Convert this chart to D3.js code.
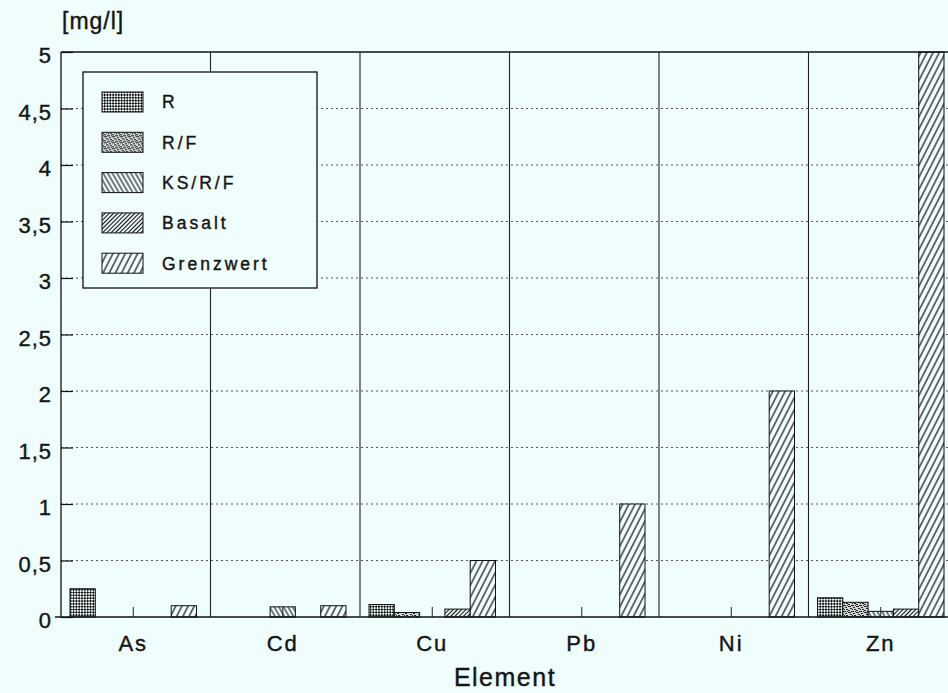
<!DOCTYPE html>
<html>
<head>
<meta charset="utf-8">
<script src="https://cdn.jsdelivr.net/npm/d3@7"></script>
<style>
  html, body { margin: 0; padding: 0; background: #f0fdfd; }
  svg { display: block; }
  text { font-family: "Liberation Sans", Arial, Helvetica, sans-serif; fill: #151515; stroke: #151515; stroke-width: 0.4px; }
</style>
</head>
<body>
<svg id="chart" width="948" height="693"></svg>
<script>
// ---- data ----
const categories = ["As", "Cd", "Cu", "Pb", "Ni", "Zn"];
const series = ["R", "R/F", "KS/R/F", "Basalt", "Grenzwert"];
const valuesR = [0.25, 0, 0.11, 0, 0, 0.17];
const valuesRF = [0, 0, 0.04, 0, 0, 0.13];
const valuesKSRF = [0, 0.09, 0, 0, 0, 0.05];
const valuesBasalt = [0, 0, 0.07, 0, 0, 0.07];
const valuesGrenzwert = [0.1, 0.1, 0.5, 1, 2, 5];
const yTickValues = [0, 0.5, 1, 1.5, 2, 2.5, 3, 3.5, 4, 4.5, 5];
const yTickLabels = ["0", "0,5", "1", "1,5", "2", "2,5", "3", "3,5", "4", "4,5", "5"];
const yTitle = "[mg/l]";
const xTitle = "Element";

const seriesValues = [valuesR, valuesRF, valuesKSRF, valuesBasalt, valuesGrenzwert];
const rows = [];
categories.forEach((c, ci) => {
  series.forEach((s, si) => rows.push({ cat: c, ser: s, si: si, value: seriesValues[si][ci] }));
});

// ---- layout ----
const BG = "#f0fdfd";
const plot = { left: 61, right: 958, top: 52, bottom: 617 };
const svg = d3.select("#chart");

const y = d3.scaleLinear().domain([0, 5]).range([plot.bottom, plot.top]);
const x0 = d3.scaleBand().domain(categories).range([plot.left, plot.right]);
const x1 = d3.scaleBand().domain(series).range([9, 135.5]);
const groupCenter = (x1.range()[0] + x1.range()[1]) / 2;

// ---- patterns ----
const defs = svg.append("defs");
const patId = ["pR", "pRF", "pKS", "pBas", "pGrenz"];

// R: dense checker
let p = defs.append("pattern").attr("id", "pR").attr("patternUnits", "userSpaceOnUse")
  .attr("width", 4).attr("height", 4).attr("patternTransform", "rotate(45)");
p.append("rect").attr("width", 4).attr("height", 4).attr("fill", BG);
p.append("rect").attr("width", 2).attr("height", 2).attr("fill", "#111");
p.append("rect").attr("x", 2).attr("y", 2).attr("width", 2).attr("height", 2).attr("fill", "#111");

// R/F: irregular stipple
p = defs.append("pattern").attr("id", "pRF").attr("patternUnits", "userSpaceOnUse")
  .attr("width", 8).attr("height", 6);
p.append("rect").attr("width", 8).attr("height", 6).attr("fill", "#cfd6d6");
[[0,0,3,1],[5,1,2,1],[2,2,2,1],[6,3,2,1],[0,4,2,1],[3,5,3,1],[7,5,1,1],[4,3,1,1]].forEach(r => {
  p.append("rect").attr("x", r[0]).attr("y", r[1]).attr("width", r[2]).attr("height", r[3]).attr("fill", "#222");
});

function hatch(id, spacing, angle, sw) {
  const q = defs.append("pattern").attr("id", id).attr("patternUnits", "userSpaceOnUse")
    .attr("width", spacing).attr("height", 20).attr("patternTransform", `rotate(${angle})`);
  q.append("rect").attr("width", spacing).attr("height", 20).attr("fill", BG);
  q.append("line").attr("x1", spacing / 2).attr("x2", spacing / 2).attr("y1", 0).attr("y2", 20)
    .attr("stroke", "#111").attr("stroke-width", sw);
}
hatch("pKS", 4, -30, 1.1);
hatch("pBas", 3, 45, 1.1);
hatch("pGrenz", 5.5, 27, 1.2);

// ---- grid ----
const gridG = svg.append("g");
gridG.selectAll("line.grid")
  .data(yTickValues.filter(v => v > 0 && v < 5))
  .join("line")
  .attr("x1", plot.left).attr("x2", plot.right)
  .attr("y1", d => y(d)).attr("y2", d => y(d))
  .attr("stroke", "#555").attr("stroke-width", 1).attr("stroke-dasharray", "2,3");

// group separators
gridG.selectAll("line.sep")
  .data(categories.slice(1))
  .join("line")
  .attr("x1", d => x0(d)).attr("x2", d => x0(d))
  .attr("y1", plot.top).attr("y2", plot.bottom)
  .attr("stroke", "#222").attr("stroke-width", 1.1);

// ---- bars ----
svg.append("g").selectAll("rect")
  .data(rows.filter(d => d.value > 0))
  .join("rect")
  .attr("x", d => x0(d.cat) + x1(d.ser))
  .attr("width", x1.bandwidth())
  .attr("y", d => y(d.value))
  .attr("height", d => y(0) - y(d.value))
  .attr("fill", d => `url(#${patId[d.si]})`)
  .attr("stroke", "#111").attr("stroke-width", 1);

// ---- axes ----
const yAxis = d3.axisLeft(y).tickValues(yTickValues)
  .tickFormat((d, i) => yTickLabels[i]).tickSize(-12).tickPadding(9);
const yg = svg.append("g").attr("transform", `translate(${plot.left},0)`).call(yAxis);
yg.select(".domain").remove();
yg.selectAll(".tick line").attr("stroke", "#111").attr("stroke-width", 1.2);
yg.selectAll(".tick text").attr("font-size", 22).attr("letter-spacing", 1).attr("dy", "0.48em")
  .style("fill", "#151515");

const xAxis = d3.axisBottom(x0).tickSize(-10).tickPadding(18);
const xg = svg.append("g")
  .attr("transform", `translate(${groupCenter - x0.bandwidth() / 2},${plot.bottom})`).call(xAxis);
xg.select(".domain").remove();
xg.selectAll(".tick line").attr("stroke", "#222").attr("stroke-width", 1);
xg.selectAll(".tick text").attr("font-size", 22).attr("letter-spacing", 2).style("fill", "#151515");

// frame
svg.append("line").attr("x1", plot.left).attr("x2", plot.left).attr("y1", plot.top).attr("y2", plot.bottom)
  .attr("stroke", "#111").attr("stroke-width", 1.3);
svg.append("line").attr("x1", plot.left).attr("x2", plot.right).attr("y1", plot.top).attr("y2", plot.top)
  .attr("stroke", "#111").attr("stroke-width", 1.3);
svg.append("line").attr("x1", plot.left - 6).attr("x2", plot.right).attr("y1", plot.bottom).attr("y2", plot.bottom)
  .attr("stroke", "#111").attr("stroke-width", 1.3);

// titles
svg.append("text").attr("x", 62).attr("y", 29).attr("font-size", 23).attr("letter-spacing", 1).text(yTitle);
svg.append("text").attr("x", 505).attr("y", 686).attr("text-anchor", "middle")
  .attr("font-size", 25).attr("letter-spacing", 1.5).text(xTitle);

// ---- legend ----
const lg = svg.append("g");
lg.append("rect").attr("x", 83).attr("y", 72).attr("width", 234).attr("height", 216)
  .attr("fill", BG).attr("stroke", "#111").attr("stroke-width", 1.3);
const items = lg.selectAll("g.item").data(series).join("g")
  .attr("transform", (d, i) => `translate(0,${102 + i * 40.3})`);
items.append("rect").attr("x", 102).attr("y", -10).attr("width", 41).attr("height", 20)
  .attr("fill", (d, i) => `url(#${patId[i]})`).attr("stroke", "#111").attr("stroke-width", 1);
items.append("text").attr("x", 162).attr("y", 0).attr("dy", "0.36em")
  .attr("font-size", 17.5).attr("letter-spacing", 3).text(d => d);
</script>
</body>
</html>
